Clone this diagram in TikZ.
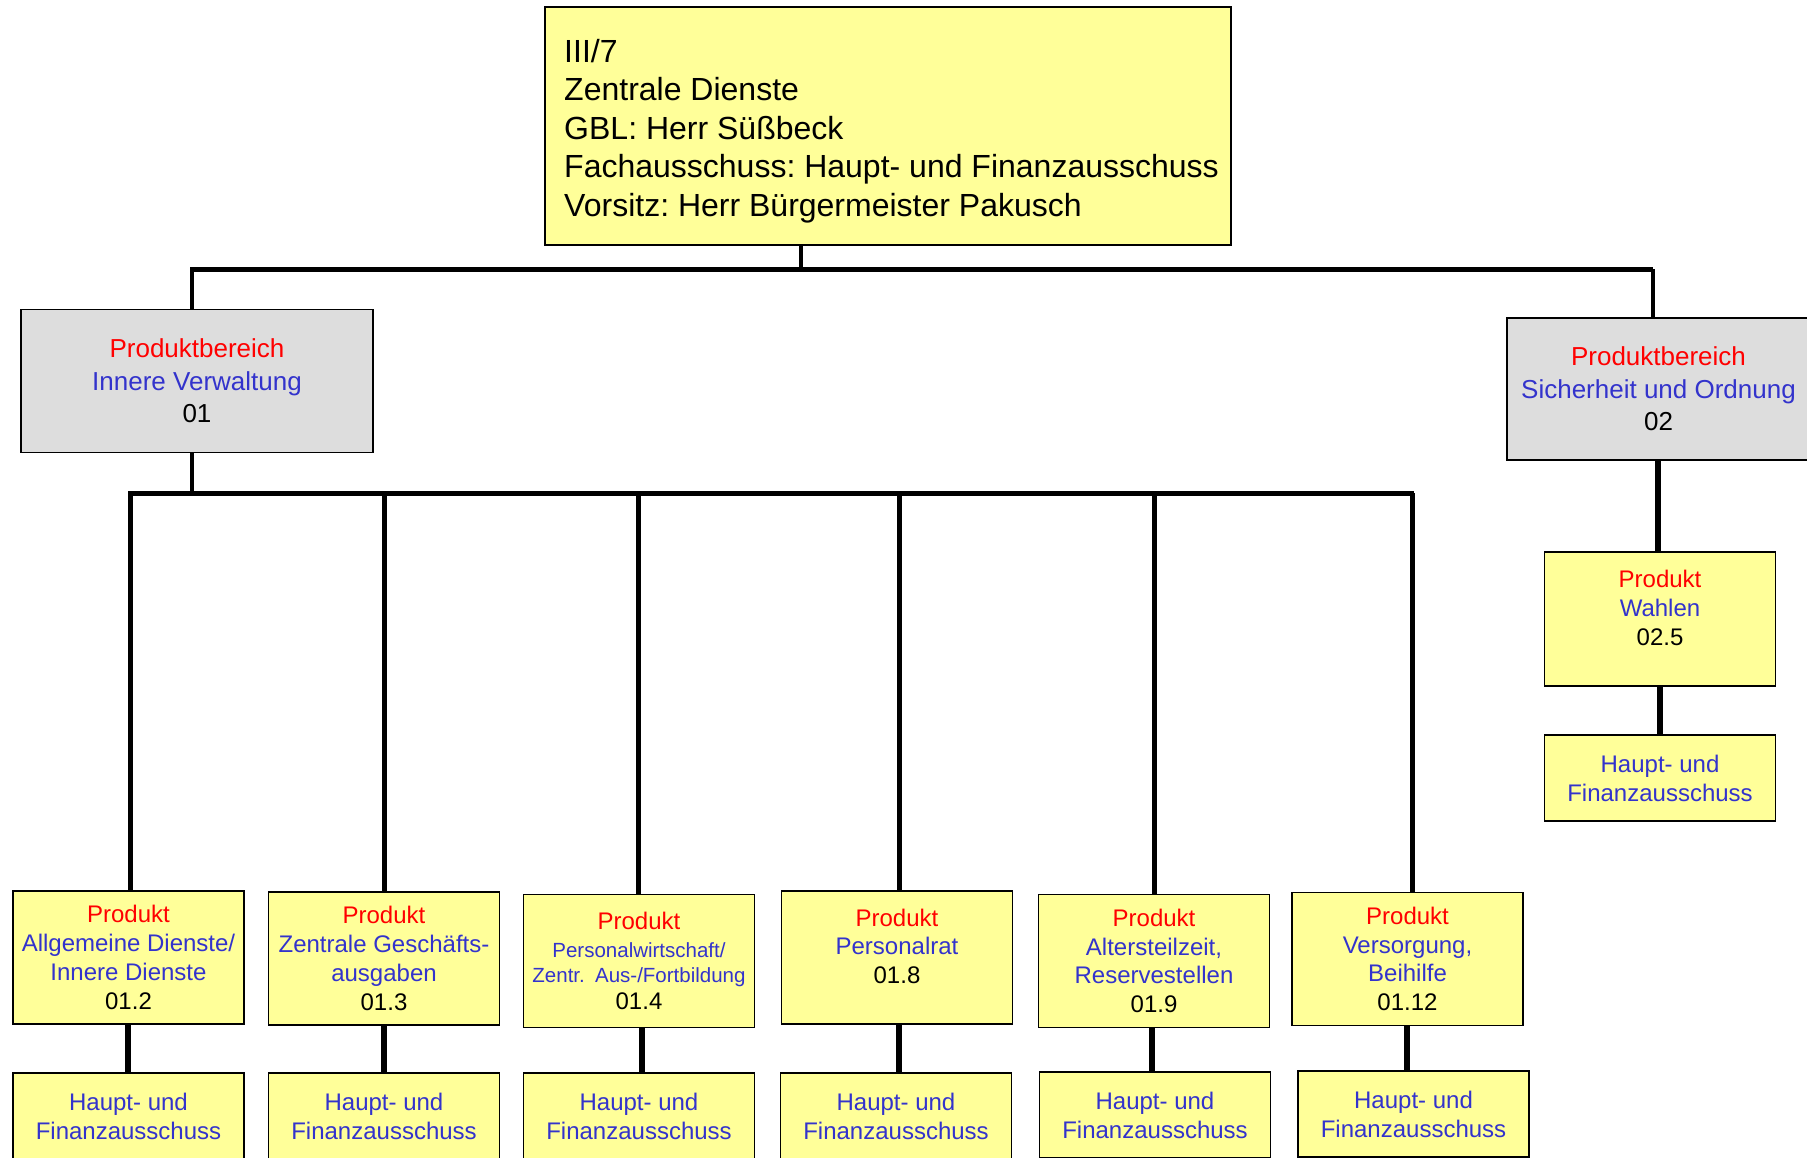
\documentclass[tikz,border=0pt]{standalone}
\usepackage{fontspec}
\setmainfont{Liberation Sans}
\frenchspacing
\definecolor{boxyellow}{HTML}{FFFF99}
\definecolor{boxgray}{HTML}{DDDDDD}
\definecolor{txtred}{HTML}{FF0000}
\definecolor{txtblue}{HTML}{3333CC}
\newcommand{\rt}[1]{\textcolor{txtred}{#1}}
\newcommand{\bt}[1]{\textcolor{txtblue}{#1}}
\begin{document}
\begin{tikzpicture}[x=1pt,y=-1pt,
  box/.style={draw=black, line width=1.8pt, inner sep=0pt, align=center},
  ybox/.style={box, fill=boxyellow},
  gbox/.style={box, fill=boxgray, minimum height=143pt, font=\fontsize{26}{32.5}\selectfont},
  prodbox/.style={ybox, minimum width=231pt, minimum height=133pt, font=\fontsize{24}{28.8}\selectfont},
  ausbox/.style={ybox, minimum width=231pt, minimum height=86pt, font=\fontsize{24}{29}\selectfont},
  conn/.style={line width=5pt},
  thinconn/.style={line width=4pt},
  lowconn/.style={line width=5.5pt}]
\useasboundingbox (0,0) rectangle (1807,1157);
\clip (0,0) rectangle (1807,1157);

% top box
\node[ybox, minimum width=686pt, minimum height=238pt] (top) at (888,126) {};
\node[align=left, inner sep=0pt, font=\fontsize{32}{38.5}\selectfont] (toptxt) at (891.5,131)
  {III/7\\Zentrale Dienste\\GBL: Herr Süßbeck\\Fachausschuss: Haupt- und Finanzausschuss\\Vorsitz: Herr Bürgermeister Pakusch};

% product areas
\node[gbox, minimum width=352pt] (pb1) at (197,381)
  {\rt{Produktbereich}\\\bt{Innere Verwaltung}\\01};
\node[gbox, minimum width=303pt, minimum height=142pt] (pb2) at (1658.5,389)
  {\rt{Produktbereich}\\\bt{Sicherheit und Ordnung}\\02};

% products
\node[prodbox] (p1) at (128.5,957.5) {\rt{Produkt}\\\bt{Allgemeine Dienste/}\\\bt{Innere Dienste}\\01.2};
\node[prodbox] (p2) at (384,958.5) {\rt{Produkt}\\\bt{Zentrale Geschäfts-}\\\bt{ausgaben}\\01.3};
\node[prodbox] (p3) at (639,961) {\rt{Produkt}\\[-1pt]{\fontsize{20.5}{26}\selectfont\bt{Personalwirtschaft/}}\\[-3pt]{\fontsize{20.5}{26}\selectfont\bt{Zentr.\hspace{0.5em}Aus-/Fortbildung}}\\[-2pt]01.4};
\node[prodbox] (p4) at (897,957.5) {\rt{Produkt}\\\bt{Personalrat}\\01.8\\[-6pt]\mbox{}};
\node[prodbox] (p5) at (1154,961) {\rt{Produkt}\\\bt{Altersteilzeit,}\\\bt{Reservestellen}\\01.9};
\node[prodbox] (p6) at (1407.5,959) {\rt{Produkt}\\\bt{Versorgung,}\\\bt{Beihilfe}\\01.12};
\node[prodbox, minimum height=134pt] (p7) at (1660,619) {\rt{Produkt}\\\bt{Wahlen}\\02.5\\[-6pt]\mbox{}};

% committees
\node[ausbox] (a1) at (128.5,1116) {\bt{Haupt- und}\\\bt{Finanzausschuss}};
\node[ausbox] (a2) at (384,1116) {\bt{Haupt- und}\\\bt{Finanzausschuss}};
\node[ausbox] (a3) at (639,1116) {\bt{Haupt- und}\\\bt{Finanzausschuss}};
\node[ausbox] (a4) at (896,1116) {\bt{Haupt- und}\\\bt{Finanzausschuss}};
\node[ausbox] (a5) at (1155,1115) {\bt{Haupt- und}\\\bt{Finanzausschuss}};
\node[ausbox] (a6) at (1413.5,1114) {\bt{Haupt- und}\\\bt{Finanzausschuss}};
\node[ausbox] (a7) at (1660,778) {\bt{Haupt- und}\\\bt{Finanzausschuss}};

% upper connectors
\coordinate (busTL) at (190,269);
\coordinate (busTR) at (1653,269);
\coordinate (busTM) at (801,269);
\draw[conn] (busTL) -- (busTR);
\draw[thinconn] (top.south -| busTM) -- (busTM);
\draw[thinconn] (busTL -| 192,0) -- (pb1.north -| 192,0);
\draw[thinconn] (busTR) -- (pb2.north -| busTR);

% lower bus
\coordinate (busL) at (128,493);
\coordinate (busR) at (1414,493);
\draw[conn] (busL) -- (busR);
\draw[thinconn] (pb1.south -| 192,0) -- (busL -| 192,0);
\foreach \p/\x in {p1/130,p2/384,p3/638,p4/899,p5/1154,p6/1412}{
  \draw[conn] (busL -| \x,0) -- (\p.north -| \x,0);
}
% product to committee
\foreach \p/\a/\x in {p1/a1/128,p2/a2/384,p3/a3/642,p4/a4/899,p5/a5/1152,p6/a6/1407,p7/a7/1660}{
  \draw[lowconn] (\p.south -| \x,0) -- (\a.north -| \x,0);
}
\draw[lowconn] (pb2.south -| 1658,0) -- (p7.north -| 1658,0);
\end{tikzpicture}
\end{document}
